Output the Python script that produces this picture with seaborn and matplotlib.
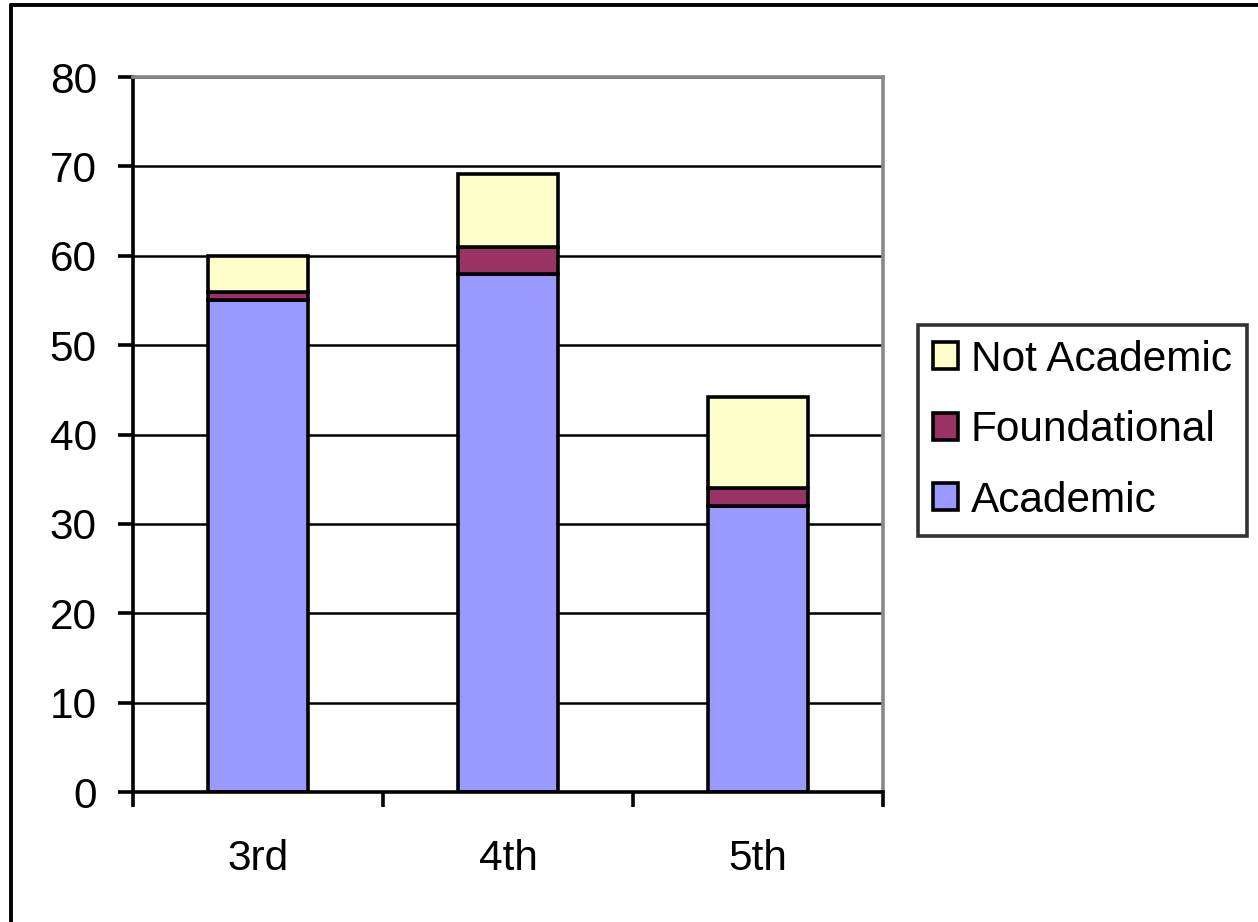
import matplotlib
matplotlib.use("Agg")
import matplotlib.pyplot as plt
from matplotlib.lines import Line2D
import seaborn as sns

# Grade levels and stacked counts
grades = ["3rd", "4th", "5th"]
academic = [55, 58, 32]
foundational = [1, 3, 2]
not_academic = [4, 8.2, 10.2]

series_names = ["Academic", "Foundational", "Not Academic"]
series_colors = ["#9999FF", "#993366", "#FFFFCC"]

sns.set_style("white")
plt.rcParams["font.family"] = ["Liberation Sans", "DejaVu Sans"]
plt.rcParams["text.color"] = "black"
plt.rcParams["xtick.color"] = "black"
plt.rcParams["ytick.color"] = "black"

fig = plt.figure(figsize=(12.58, 9.22), dpi=100)
ax = fig.add_axes([133 / 1258, 1 - 792 / 922, 750 / 1258, 715 / 922])

bottoms = [0, 0, 0]
for name, vals, col in zip(series_names, [academic, foundational, not_academic], series_colors):
    sns.barplot(x=grades, y=vals, bottom=bottoms, color=col, edgecolor="black",
                linewidth=2.6, width=0.4, errorbar=None, ax=ax, label=name,
                saturation=1)
    bottoms = [b + v for b, v in zip(bottoms, vals)]

ax.set_xlim(-0.5, 2.5)
ax.set_ylim(0, 80)
ax.set_yticks(range(0, 81, 10))
ax.yaxis.grid(True, color="black", linewidth=1.8)
ax.set_axisbelow(True)

for side in ("left", "bottom"):
    ax.spines[side].set_color("black")
    ax.spines[side].set_linewidth(2.6)
for side in ("top", "right"):
    ax.spines[side].set_color("#888888")
    ax.spines[side].set_linewidth(2.6)

ax.tick_params(axis="y", which="major", direction="out", length=11, width=2.6,
               color="black", labelcolor="black", labelsize=30.5, pad=15, left=True)
ax.set_xticks([-0.5, 0.5, 1.5, 2.5], minor=True)
ax.tick_params(axis="x", which="minor", direction="out", length=11, width=2.6,
               color="black", bottom=True)
ax.tick_params(axis="x", which="major", length=0, labelsize=30.5, pad=34,
               labelcolor="black")
ax.set_xlabel("")
ax.set_ylabel("")

handles, labels = ax.get_legend_handles_labels()
leg = ax.legend(handles[::-1], labels[::-1], loc="upper left",
                bbox_to_anchor=(918 / 1258, 1 - 325 / 922),
                bbox_transform=fig.transFigure, borderaxespad=0,
                fontsize=30.5, frameon=True, fancybox=False,
                handlelength=0.6, handleheight=0.6, handletextpad=0.3,
                labelspacing=0.72, borderpad=0.35)
frame = leg.get_frame()
frame.set_linewidth(2.6)
frame.set_edgecolor("black")
for t in leg.get_texts():
    t.set_color("black")

# Outer chart border (top and left edges)
fig.add_artist(Line2D([11 / 1258, 1.0], [1 - 5 / 922, 1 - 5 / 922],
                      transform=fig.transFigure, color="black", linewidth=2.8))
fig.add_artist(Line2D([11 / 1258, 11 / 1258], [0.0, 1 - 5 / 922],
                      transform=fig.transFigure, color="black", linewidth=2.8))

fig.savefig("out.png", dpi=100)
